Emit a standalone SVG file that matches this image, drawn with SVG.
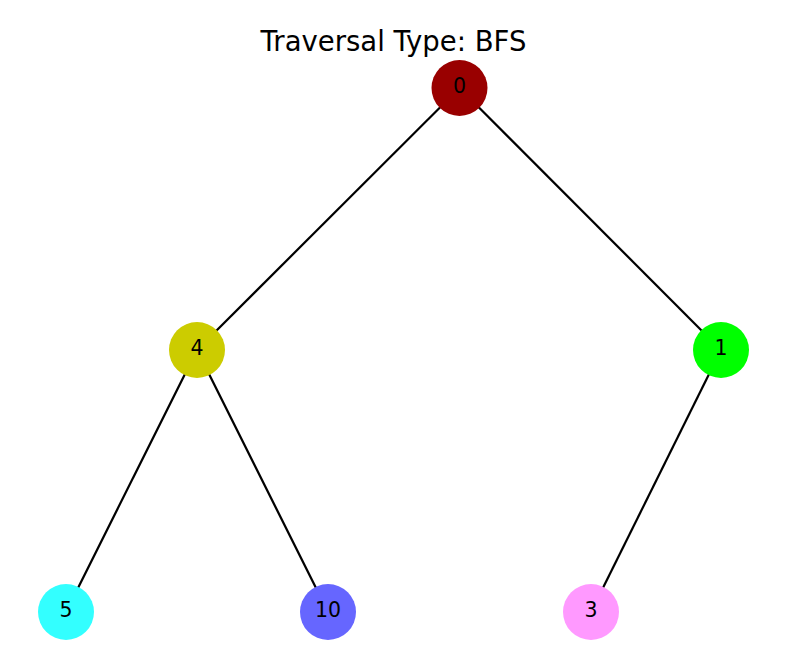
<svg xmlns="http://www.w3.org/2000/svg" width="812" height="671" viewBox="0 0 812 671">
<style>
.edge{stroke:#000;stroke-width:2.2;fill:none}
.lbl{font-family:"DejaVu Sans",sans-serif;font-size:20.5px;fill:#000;text-anchor:middle}
.title{font-family:"DejaVu Sans",sans-serif;font-size:27.5px;fill:#000;text-anchor:middle}
</style>
<rect width="812" height="671" fill="#fff"/>
<text class="title" x="393.5" y="51">Traversal Type: BFS</text>
<g id="edges">
<line class="edge" x1="459.5" y1="88" x2="197" y2="350"/>
<line class="edge" x1="459.5" y1="88" x2="721" y2="350"/>
<line class="edge" x1="197" y1="350" x2="66" y2="612"/>
<line class="edge" x1="197" y1="350" x2="328" y2="612"/>
<line class="edge" x1="721" y1="350" x2="591" y2="612"/>
</g>
<g id="node0"><circle cx="459.5" cy="88" r="28" fill="#990000"/><text class="lbl" x="459.5" y="92.5">0</text></g>
<g id="node4"><circle cx="197" cy="350" r="28" fill="#cccc00"/><text class="lbl" x="197" y="354.5">4</text></g>
<g id="node1"><circle cx="721" cy="350" r="28" fill="#00ff00"/><text class="lbl" x="721" y="354.5">1</text></g>
<g id="node5"><circle cx="66" cy="612" r="28" fill="#33ffff"/><text class="lbl" x="66" y="616.5">5</text></g>
<g id="node10"><circle cx="328" cy="612" r="28" fill="#6666ff"/><text class="lbl" x="328" y="616.5">10</text></g>
<g id="node3"><circle cx="591" cy="612" r="28" fill="#ff99ff"/><text class="lbl" x="591" y="616.5">3</text></g>
</svg>
